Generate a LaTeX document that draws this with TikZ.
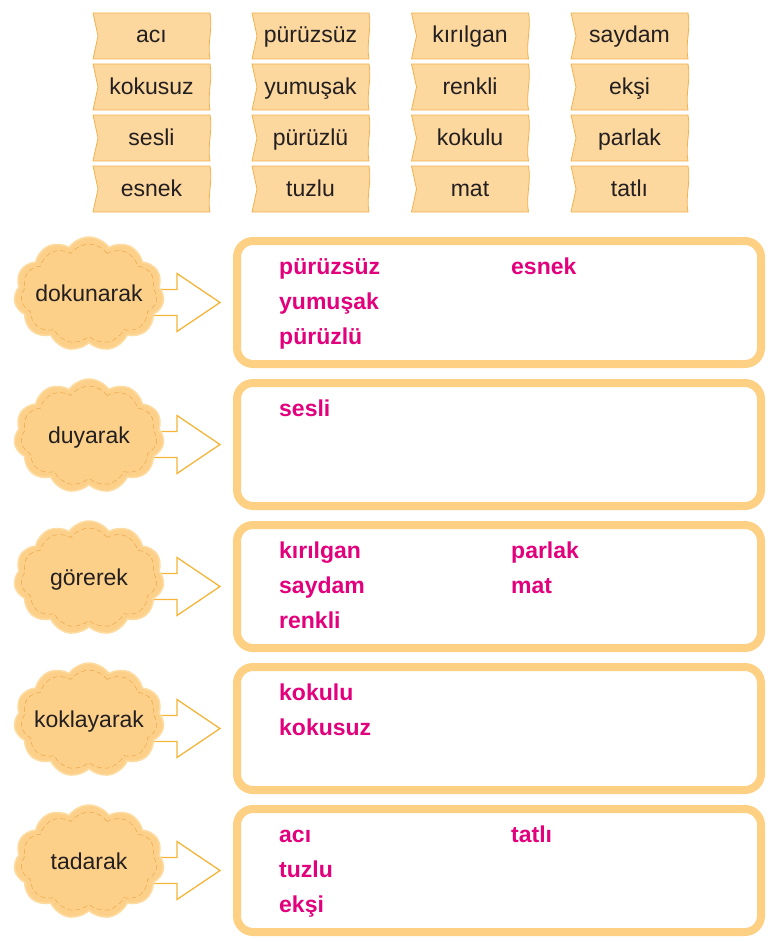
\documentclass[tikz,border=0pt]{standalone}
\usepackage{fontspec}
\setmainfont{Liberation Sans}
\usetikzlibrary{shapes.symbols,calc,backgrounds}
\definecolor{tagfill}{HTML}{FCD79E}
\definecolor{tagdraw}{HTML}{F0B24F}
\definecolor{cloudfill}{HTML}{FDD089}
\definecolor{cloudedge}{HTML}{FDDCA2}
\definecolor{dashc}{HTML}{E9A84E}
\definecolor{boxc}{HTML}{FDD083}
\definecolor{arrowc}{HTML}{F4B53A}
\definecolor{mag}{HTML}{E3007D}
\definecolor{txt}{HTML}{231F20}
\newcommand{\wordtag}[4]{%
  \node[tagnode] (#1) at (#2,#3) {#4};
  \begin{pgfonlayer}{background}
  \filldraw[fill=tagfill,draw=tagdraw,line width=0.8pt]
    (#1.north west) -- (#1.north east)
    .. controls ($(#1.north east)+(3,15)$) and ($(#1.south east)+(-3,-15)$) .. (#1.south east)
    -- (#1.south west) -- ($(#1.west)+(5,0)$) -- cycle;
  \end{pgfonlayer}}
\newcommand{\sensearrow}[2]{%
  \begin{pgfonlayer}{background}
  \filldraw[fill=white,draw=arrowc,line width=1.3pt,line join=miter]
    ($(#1.east |- #2.west)+(-11,-13)$) -- ($(#2.west)+(-60,-13)$) -- ($(#2.west)+(-60,-29)$)
    -- ($(#2.west)+(-17,0)$) -- ($(#2.west)+(-60,29)$) -- ($(#2.west)+(-60,13)$)
    -- ($(#1.east |- #2.west)+(-11,13)$);
  \end{pgfonlayer}}
\newcommand{\cloudtext}[1]{\makebox[0pt][c]{#1}}
\begin{document}
\begin{tikzpicture}[x=1pt,y=-1pt,
  tagnode/.style={minimum width=117pt,minimum height=46pt,inner sep=0pt,outer sep=0pt,
    text height=18pt,text depth=4pt,
    font=\fontsize{23}{27}\selectfont,text=txt},
  cloudnode/.style={cloud,cloud puffs=11,cloud puff arc=110,aspect=1.3,
    minimum width=150pt,minimum height=114pt,inner sep=0pt,outer sep=0pt,fill=cloudfill,
    text height=18pt,text depth=4pt,
    draw=cloudedge,line width=1.5pt,font=\fontsize{23}{27}\selectfont,text=txt},
  cloudin/.style={cloud,cloud puffs=11,cloud puff arc=110,aspect=1.3,
    minimum width=136pt,minimum height=100pt,inner sep=0pt,draw=dashc,
    line width=0.5pt,dash pattern=on 5pt off 3pt},
  boxnode/.style={draw=boxc,line width=8pt,rounded corners=16pt,fill=white,
    minimum width=524pt,minimum height=123pt,inner sep=0pt,outer sep=0pt},
  word/.style={font=\bfseries\fontsize{23}{27}\selectfont,text=mag,inner sep=0pt,anchor=base west}]
\useasboundingbox (0,0) rectangle (778,942);
% word tags
\wordtag{t11}{151.5}{36}{acı}
\wordtag{t12}{151.5}{87}{kokusuz}
\wordtag{t13}{151.5}{138}{sesli}
\wordtag{t14}{151.5}{189}{esnek}
\wordtag{t21}{310.5}{36}{pürüzsüz}
\wordtag{t22}{310.5}{87}{yumuşak}
\wordtag{t23}{310.5}{138}{pürüzlü}
\wordtag{t24}{310.5}{189}{tuzlu}
\wordtag{t31}{470}{36}{kırılgan}
\wordtag{t32}{470}{87}{renkli}
\wordtag{t33}{470}{138}{kokulu}
\wordtag{t34}{470}{189}{mat}
\wordtag{t41}{629.5}{36}{saydam}
\wordtag{t42}{629.5}{87}{ekşi}
\wordtag{t43}{629.5}{138}{parlak}
\wordtag{t44}{629.5}{189}{tatlı}
% boxes
\node[boxnode] (b1) at (499,302.5) {};
\node[boxnode] (b2) at (499,444.5) {};
\node[boxnode] (b3) at (499,586.5) {};
\node[boxnode] (b4) at (499,728.5) {};
\node[boxnode] (b5) at (499,870.5) {};
% clouds
\node[cloudnode] (c1) at (89,294) {\cloudtext{dokunarak}};
\node[cloudin] (ci1) at (c1.center) {};
\node[cloudnode] (c2) at (89,436) {\cloudtext{duyarak}};
\node[cloudin] (ci2) at (c2.center) {};
\node[cloudnode] (c3) at (89,578) {\cloudtext{görerek}};
\node[cloudin] (ci3) at (c3.center) {};
\node[cloudnode] (c4) at (89,720) {\cloudtext{koklayarak}};
\node[cloudin] (ci4) at (c4.center) {};
\node[cloudnode] (c5) at (89,862) {\cloudtext{tadarak}};
\node[cloudin] (ci5) at (c5.center) {};
% arrows
\sensearrow{c1}{b1}
\sensearrow{c2}{b2}
\sensearrow{c3}{b3}
\sensearrow{c4}{b4}
\sensearrow{c5}{b5}
% answers
\node[word] (w11) at ($(b1.north west)+(42,33)$) {pürüzsüz};
\node[word] (w12) at ($(b1.north west)+(42,68)$) {yumuşak};
\node[word] (w13) at ($(b1.north west)+(42,103)$) {pürüzlü};
\node[word] (w14) at ($(b1.north west)+(274,33)$) {esnek};
\node[word] (w21) at ($(b2.north west)+(42,33)$) {sesli};
\node[word] (w31) at ($(b3.north west)+(42,33)$) {kırılgan};
\node[word] (w32) at ($(b3.north west)+(42,68)$) {saydam};
\node[word] (w33) at ($(b3.north west)+(42,103)$) {renkli};
\node[word] (w34) at ($(b3.north west)+(274,33)$) {parlak};
\node[word] (w35) at ($(b3.north west)+(274,68)$) {mat};
\node[word] (w41) at ($(b4.north west)+(42,33)$) {kokulu};
\node[word] (w42) at ($(b4.north west)+(42,68)$) {kokusuz};
\node[word] (w51) at ($(b5.north west)+(42,33)$) {acı};
\node[word] (w52) at ($(b5.north west)+(42,68)$) {tuzlu};
\node[word] (w53) at ($(b5.north west)+(42,103)$) {ekşi};
\node[word] (w54) at ($(b5.north west)+(274,33)$) {tatlı};
\end{tikzpicture}
\end{document}
